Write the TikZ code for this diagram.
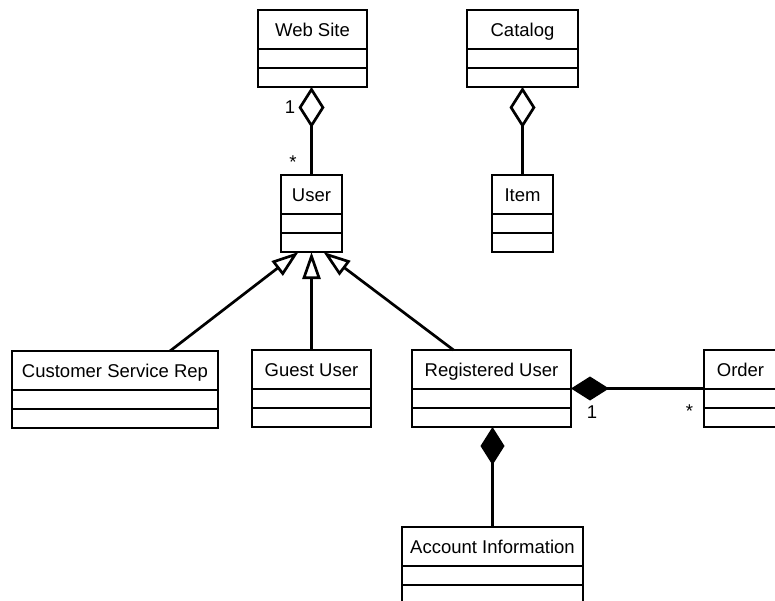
\documentclass[tikz,border=0pt]{standalone}
\usepackage{fontspec}
\setmainfont{Liberation Sans}
\usetikzlibrary{arrows.meta,calc}

\newcommand\umlclass[6]{%
  \node[cls, minimum width={#4-#2}, minimum height={#5-#3}] (#1) at (#2,#3) {};
  \draw[sepline] ($(#1.north west)+(0,39)$) -- ($(#1.north east)+(0,39)$);
  \draw[sepline] ($(#1.north west)+(0,58)$) -- ($(#1.north east)+(0,58)$);
  \node[lbl, anchor=base] (#1t) at ($(#1.north)+(0,26.5)$) {#6};
}

\begin{document}
\begin{tikzpicture}[x=1pt,y=-1pt,
  cls/.style={draw, line width=2.7pt, rectangle, inner sep=0pt, outer sep=0pt, anchor=north west},
  sepline/.style={line width=1.1pt},
  lbl/.style={font=\fontsize{18.5}{22}\selectfont, inner sep=0pt},
  conn/.style={line width=2.7pt},
  agg/.style={conn, -{Diamond[open, length=41pt, width=26pt]}},
  comp/.style={conn, -{Diamond[length=38pt, width=24pt]}},
  gen/.style={conn, -{Triangle[open, length=27pt, width=18pt]}}
]
\path[use as bounding box] (0,0) rectangle (775,601);
\clip (0,0) rectangle (775,601);

\umlclass{ws}{258}{10}{367}{87}{Web Site}
\umlclass{cat}{467}{10}{578}{87}{Catalog}
\umlclass{item}{492}{175}{553}{252}{Item}
\umlclass{user}{281}{175}{342}{252}{User}
\umlclass{csr}{12}{351}{218}{428}{Customer Service Rep}
\umlclass{guest}{252}{350}{371}{427}{Guest User}
\umlclass{reg}{412}{350}{571}{427}{Registered User}
\umlclass{order}{704}{350}{777}{427}{Order}
\umlclass{acct}{402}{527}{583}{604}{Account Information}

% aggregations
\draw[agg] (user.north) -- (user.north |- ws.south);
\draw[agg] (item.north) -- (cat.south);

% generalizations
\draw[gen] ([xshift=55pt]csr.north) -- ([xshift=-13pt]user.south);
\draw[gen] (guest.north) -- (user.south);
\draw[gen] ([xshift=-38pt]reg.north) -- ([xshift=12pt]user.south);

% compositions
\draw[comp] (order.west) -- (reg.east);
\draw[comp] (acct.north) -- (acct.north |- reg.south);

% multiplicities
\node[lbl] (m1) at (290,107.5) {1};
\node[lbl] (m2) at (293,162) {*};
\node[lbl] (m3) at (592,412.5) {1};
\node[lbl] (m4) at (689.5,411) {*};
\end{tikzpicture}
\end{document}
